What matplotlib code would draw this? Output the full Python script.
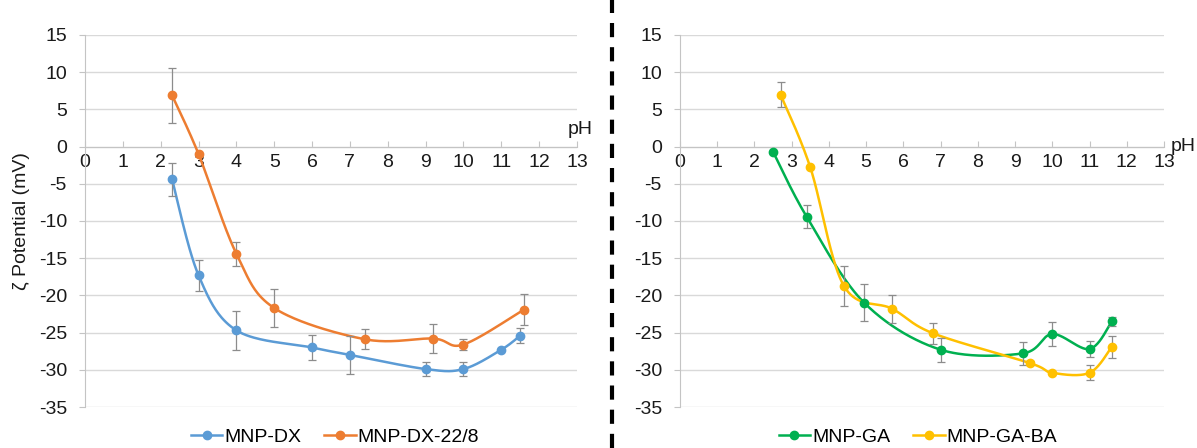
# Potencial zeta vs pH de las nanoparticulas
import numpy as np
import matplotlib.pyplot as plt
from matplotlib.lines import Line2D

plt.rcParams['font.family'] = ['Liberation Sans', 'DejaVu Sans']
plt.rcParams['font.size'] = 14
plt.rcParams['axes.unicode_minus'] = False

# datos panel izquierdo
dx_ph = [2.3, 3.0, 4.0, 6.0, 7.0, 9.0, 10.0, 11.0, 11.5]
dx_zeta = [-4.4, -17.3, -24.7, -27.0, -28.0, -29.9, -29.9, -27.3, -25.4]
dx_err = [2.2, 2.1, 2.6, 1.7, 2.5, 0.9, 0.9, 0.0, 1.0]

dx228_ph = [2.3, 3.0, 4.0, 5.0, 7.4, 9.2, 10.0, 11.6]
dx228_zeta = [6.9, -1.0, -14.4, -21.7, -25.9, -25.8, -26.6, -21.9]
dx228_err = [3.7, 0.0, 1.6, 2.5, 1.35, 2.0, 0.7, 2.1]

# datos panel derecho
ga_ph = [2.5, 3.4, 4.95, 7.0, 9.2, 10.0, 11.0, 11.6]
ga_zeta = [-0.7, -9.4, -21.0, -27.3, -27.8, -25.2, -27.2, -23.5]
ga_err = [0.0, 1.6, 2.5, 1.6, 1.6, 1.6, 1.1, 0.6]

gaba_ph = [2.7, 3.5, 4.4, 5.7, 6.8, 9.4, 10.0, 11.0, 11.6]
gaba_zeta = [7.0, -2.8, -18.7, -21.8, -25.1, -29.1, -30.4, -30.4, -26.9]
gaba_err = [1.7, 0.0, 2.7, 1.85, 1.4, 0.3, 0.0, 1.0, 1.5]

xticks = list(range(0, 14))
yticks = list(range(-35, 16, 5))

W = 1197
H = 448


def curva_suave(x, y, ancho, alto, n=40):
    # curva suavizada tipo Excel (Bezier con tangentes Catmull-Rom)
    px = np.array(x, dtype=float) / 13 * ancho
    py = np.array(y, dtype=float) / 50 * alto
    pts = np.column_stack([px, py])
    tramos = []
    t = np.linspace(0, 1, n)[:, None]
    for i in range(len(pts) - 1):
        p0 = pts[i - 1] if i > 0 else pts[i]
        p1 = pts[i]
        p2 = pts[i + 1]
        p3 = pts[i + 2] if i + 2 < len(pts) else pts[i + 1]
        c1 = p1 + (p2 - p0) / 6
        c2 = p2 - (p3 - p1) / 6
        seg = (1 - t)**3 * p1 + 3 * (1 - t)**2 * t * c1 + 3 * (1 - t) * t**2 * c2 + t**3 * p2
        tramos.append(seg)
    c = np.vstack(tramos)
    return c[:, 0] * 13 / ancho, c[:, 1] * 50 / alto


def serie(ax, x, y, err, color, nombre, ancho, alto):
    xs, ys = curva_suave(x, y, ancho, alto)
    ax.plot(xs, ys, color=color, lw=1.8, zorder=3)
    x = np.array(x)
    y = np.array(y)
    err = np.array(err)
    m = err > 0
    ax.errorbar(x[m], y[m], yerr=err[m], fmt='none', ecolor='#8c8c8c',
                elinewidth=0.9, capsize=3, capthick=0.9, zorder=4)
    ax.plot(x, y, 'o', color=color, ms=6, zorder=5)
    return Line2D([], [], color=color, lw=1.8, marker='o', ms=6, label=nombre)


def ejes(ax, texto_ph):
    ax.set_xlim(0, 13)
    ax.set_ylim(-35, 15)
    ax.set_xticks(xticks)
    ax.set_yticks(yticks)
    ax.grid(axis='y', color='#d9d9d9', lw=1)
    ax.set_axisbelow(True)
    for s in ['top', 'right']:
        ax.spines[s].set_visible(False)
    ax.spines['bottom'].set_position(('data', 0))
    ax.spines['bottom'].set_color('#c4c4c4')
    ax.spines['left'].set_color('#c4c4c4')
    ax.spines['bottom'].set_zorder(2)
    ax.tick_params(axis='x', direction='in', length=4, color='#c4c4c4', pad=5,
                   labelcolor='#1a1a1a', labelsize=14)
    ax.tick_params(axis='y', direction='out', length=4, color='#c4c4c4', pad=9,
                   labelcolor='#1a1a1a', labelsize=14)
    ax.text(texto_ph[0], texto_ph[1], 'pH', transform=ax.transData,
            fontsize=14, color='#1a1a1a', ha='left', va='center')


fig = plt.figure(figsize=(W / 100, H / 100), dpi=100)

# panel izquierdo
x0, x1 = 85, 577
y0, y1 = 35, 407
ax1 = fig.add_axes([x0 / W, 1 - y1 / H, (x1 - x0) / W, (y1 - y0) / H])
h1 = serie(ax1, dx_ph, dx_zeta, dx_err, '#5b9bd5', 'MNP-DX', x1 - x0, y1 - y0)
h2 = serie(ax1, dx228_ph, dx228_zeta, dx228_err, '#ed7d31', 'MNP-DX-22/8', x1 - x0, y1 - y0)
ejes(ax1, (12.75, 2.3))

# panel derecho
x0, x1 = 680, 1164
ax2 = fig.add_axes([x0 / W, 1 - y1 / H, (x1 - x0) / W, (y1 - y0) / H])
h3 = serie(ax2, ga_ph, ga_zeta, ga_err, '#00b050', 'MNP-GA', x1 - x0, y1 - y0)
h4 = serie(ax2, gaba_ph, gaba_zeta, gaba_err, '#ffc000', 'MNP-GA-BA', x1 - x0, y1 - y0)
ejes(ax2, (13.18, 0))

fig.text(22 / W, 1 - 221 / H, 'ζ Potential (mV)', rotation=90, ha='center', va='center',
         fontsize=14, color='#1a1a1a')

fig.legend(handles=[h1, h2], loc='center', bbox_to_anchor=(335 / W, 1 - 437 / H),
           ncol=2, frameon=False, handlelength=1.6, handletextpad=0.1,
           columnspacing=1.2, fontsize=14, borderaxespad=0)
fig.legend(handles=[h3, h4], loc='center', bbox_to_anchor=(918 / W, 1 - 437 / H),
           ncol=2, frameon=False, handlelength=1.6, handletextpad=0.1,
           columnspacing=1.2, fontsize=14, borderaxespad=0)

# linea divisoria
fig.add_artist(Line2D([612 / W, 612 / W], [0, 1], transform=fig.transFigure,
                      color='black', lw=3, linestyle=(0, (3.4, 2.4))))

fig.savefig('out.png', dpi=100)
